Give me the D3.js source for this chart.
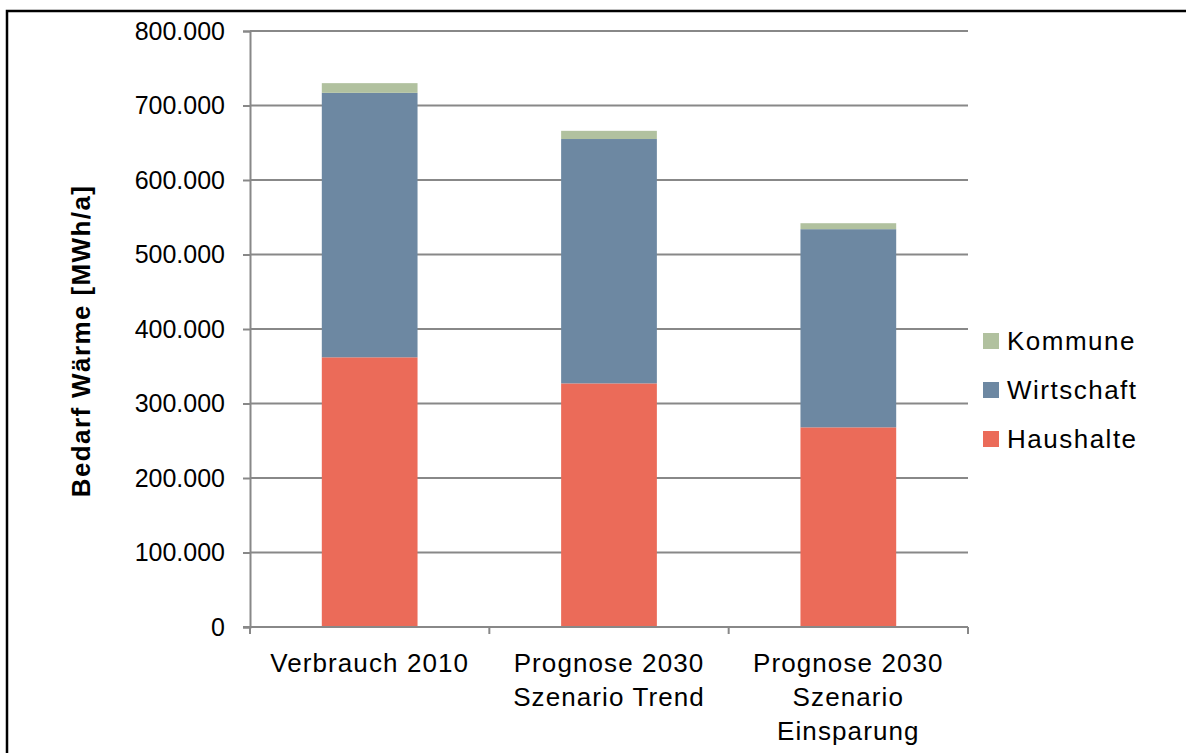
<!DOCTYPE html>
<html>
<head>
<meta charset="utf-8">
<script src="https://cdn.jsdelivr.net/npm/d3@7"></script>
<style>
  html, body { margin: 0; padding: 0; background: #ffffff; }
  svg { display: block; }
  text { font-family: "Liberation Sans", Arial, sans-serif; fill: #000; }
</style>
</head>
<body>
<svg id="chart" width="1186" height="753"></svg>
<script>
// Heat demand per sector, MWh per year
const categories = [
  ["Verbrauch 2010"],
  ["Prognose 2030", "Szenario Trend"],
  ["Prognose 2030", "Szenario", "Einsparung"]
];
const seriesNames = ["Haushalte", "Wirtschaft", "Kommune"];
const haushalte  = [362000, 327000, 268000];
const wirtschaft = [355000, 328000, 266000];
const kommune    = [13000, 11000, 8000];
const yTicks = [0, 100000, 200000, 300000, 400000, 500000, 600000, 700000, 800000];
const yTitle = "Bedarf Wärme [MWh/a]";

const colors = { Haushalte: "#eb6b59", Wirtschaft: "#6d88a2", Kommune: "#b1c19f" };

const svg = d3.select("#chart");

// outer frame
svg.append("rect")
  .attr("x", 7).attr("y", 11)
  .attr("width", 1200).attr("height", 800)
  .attr("fill", "none").attr("stroke", "#000").attr("stroke-width", 2.5);

const plotL = 250, plotR = 968, plotT = 31, plotB = 627;

const rows = categories.map((c, i) => ({
  key: c.join(" "), lines: c,
  Haushalte: haushalte[i], Wirtschaft: wirtschaft[i], Kommune: kommune[i]
}));

const x = d3.scaleBand().domain(rows.map(d => d.key)).range([plotL, plotR])
  .paddingInner(0.6).paddingOuter(0.3);
const y = d3.scaleLinear().domain([0, 800000]).range([plotB, plotT]);

const fmt = v => v === 0 ? "0" : d3.format(",")(v).replace(/,/g, ".");

// gridlines
svg.append("g").selectAll("line").data(yTicks.filter(t => t > 0)).join("line")
  .attr("x1", plotL).attr("x2", plotR)
  .attr("y1", d => y(d)).attr("y2", d => y(d))
  .attr("stroke", "#888").attr("stroke-width", 2);

// y axis
const yAxis = svg.append("g").attr("transform", `translate(${plotL},0)`)
  .call(d3.axisLeft(y).tickValues(yTicks).tickFormat(fmt).tickSize(7).tickPadding(18));
yAxis.select(".domain").attr("stroke", "#888").attr("stroke-width", 2);
yAxis.selectAll(".tick line").attr("stroke", "#888").attr("stroke-width", 2);
yAxis.selectAll(".tick text").attr("font-size", 25)
  .attr("font-family", "Liberation Sans, Arial, sans-serif").attr("fill", "#000");

// stacked bars
const stack = d3.stack().keys(seriesNames);
const layers = stack(rows);
svg.append("g").selectAll("g").data(layers).join("g")
  .attr("fill", d => colors[d.key])
  .selectAll("rect").data(d => d).join("rect")
  .attr("x", d => x(d.data.key))
  .attr("width", x.bandwidth())
  .attr("y", d => y(d[1]))
  .attr("height", d => y(d[0]) - y(d[1]));

// x axis: baseline with ticks at band boundaries
const bounds = d3.range(categories.length + 1).map(i => plotL + i * (plotR - plotL) / categories.length);
const xg = svg.append("g");
xg.append("line").attr("x1", plotL - 7).attr("x2", plotR)
  .attr("y1", plotB).attr("y2", plotB)
  .attr("stroke", "#888").attr("stroke-width", 2);
xg.selectAll("line.tk").data(bounds).join("line").attr("class", "tk")
  .attr("x1", d => d).attr("x2", d => d)
  .attr("y1", plotB).attr("y2", plotB + 7)
  .attr("stroke", "#888").attr("stroke-width", 2);

const labels = xg.selectAll("text.cat").data(rows).join("text").attr("class", "cat")
  .attr("x", d => x(d.key) + x.bandwidth() / 2)
  .attr("y", 672)
  .attr("text-anchor", "middle")
  .attr("font-size", 26)
  .attr("letter-spacing", 1.1);
labels.selectAll("tspan").data(d => d.lines.map(l => ({ l, cx: x(d.key) + x.bandwidth() / 2 })))
  .join("tspan")
  .attr("x", d => d.cx)
  .attr("dy", (d, i) => i === 0 ? 0 : 34)
  .text(d => d.l);

// y axis title
svg.append("text")
  .attr("transform", "translate(90,341) rotate(-90)")
  .attr("text-anchor", "middle")
  .attr("font-size", 26)
  .attr("font-weight", "bold")
  .attr("letter-spacing", 1.4)
  .text(yTitle);

// legend
const legendOrder = ["Kommune", "Wirtschaft", "Haushalte"];
const lg = svg.append("g").selectAll("g").data(legendOrder).join("g")
  .attr("transform", (d, i) => `translate(983,${333 + i * 49})`);
lg.append("rect").attr("width", 16).attr("height", 16).attr("fill", d => colors[d]);
lg.append("text").attr("x", 24).attr("y", 8).attr("dy", "0.36em")
  .attr("font-size", 26).attr("letter-spacing", 1.5).text(d => d);
</script>
</body>
</html>
